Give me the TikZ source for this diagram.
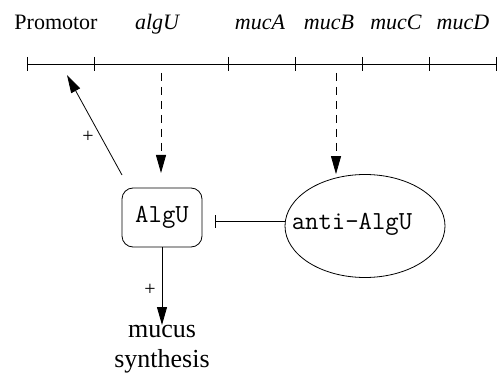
\documentclass[tikz,border=0pt]{standalone}
\usepackage{fontspec}
\setmainfont{Liberation Serif}
\usetikzlibrary{arrows.meta,shapes.geometric}
\tikzset{
  genelabel/.style={font=\fontsize{22}{24}\selectfont\itshape, inner sep=0pt, anchor=base},
  genetick/.style={line width=0.8pt},
  arr/.style={line width=0.8pt, -{Triangle[length=18pt,width=10pt]}},
  dasharr/.style={arr, dash pattern=on 8pt off 6pt},
  proteinbox/.style={draw, line width=0.8pt, rounded corners=11pt, minimum width=80pt, minimum height=59pt, inner sep=0pt, font=\fontsize{26}{28}\ttfamily},
  proteinell/.style={draw, ellipse, line width=0.8pt, minimum width=160pt, minimum height=103pt, inner sep=0pt},
  prottext/.style={inner sep=0pt, font=\fontsize{26}{28}\ttfamily},
  signlabel/.style={font=\fontsize{20}{22}\selectfont, inner sep=0pt},
}
\begin{document}
\begin{tikzpicture}[x=1pt,y=-1pt]
  \useasboundingbox (0,0) rectangle (497,379);

  % gene map: baseline and segment boundaries
  \draw[genetick] (27,64) -- (496,64);
  \foreach \t/\xx in {a/27,b/94,c/228,d/295,e/362,f/429,g/496}{
    \coordinate (t\t) at (\xx,64);
    \draw[genetick] (\xx,57) -- (\xx,71);
  }

  % gene labels
  \node[genelabel, font=\fontsize{22}{24}\selectfont] (lprom) at (56,30) {Promotor};
  \node[genelabel] (lalgu) at (157,30) {algU};
  \node[genelabel] (lmuca) at (260,30) {mucA};
  \node[genelabel] (lmucb) at (329,30) {mucB};
  \node[genelabel] (lmucc) at (396,30) {mucC};
  \node[genelabel] (lmucd) at (463,30) {mucD};

  % proteins
  \node[proteinbox] (algu) at (162,217.5) {AlgU};
  \node[proteinell] (anti) at (365,226) {};
  \node[prottext] (antitxt) at (352,224) {anti-AlgU};

  % product
  \node[font=\fontsize{26}{30}\selectfont, align=center, inner sep=0pt, anchor=north] (mucus) at (162,325) {mucus\\synthesis};

  % translation (dashed)
  \coordinate (s1) at (161,73);
  \coordinate (s2) at (336,73);
  \draw[dasharr] (s1) -- (161,173) coordinate (e1);
  \draw[dasharr] (s2) -- (anti.north -| s2);

  % activation of the promoter
  \coordinate (pstart) at (122,175);
  \coordinate (pend) at (67,75);
  \draw[arr] (pstart) -- (pend) node[signlabel, pos=0.38, left=7pt] (plus1) {+};

  % inhibition of AlgU by anti-AlgU
  \draw[line width=0.8pt, -{Bar[width=13pt]}, shorten >=13pt] (anti.west |- 0,221) -- (algu.east |- 0,221);

  % mucus synthesis
  \draw[arr] (algu.south) -- (mucus.north) node[signlabel, pos=0.55, left=6pt] (plus2) {+};
\end{tikzpicture}
\end{document}
